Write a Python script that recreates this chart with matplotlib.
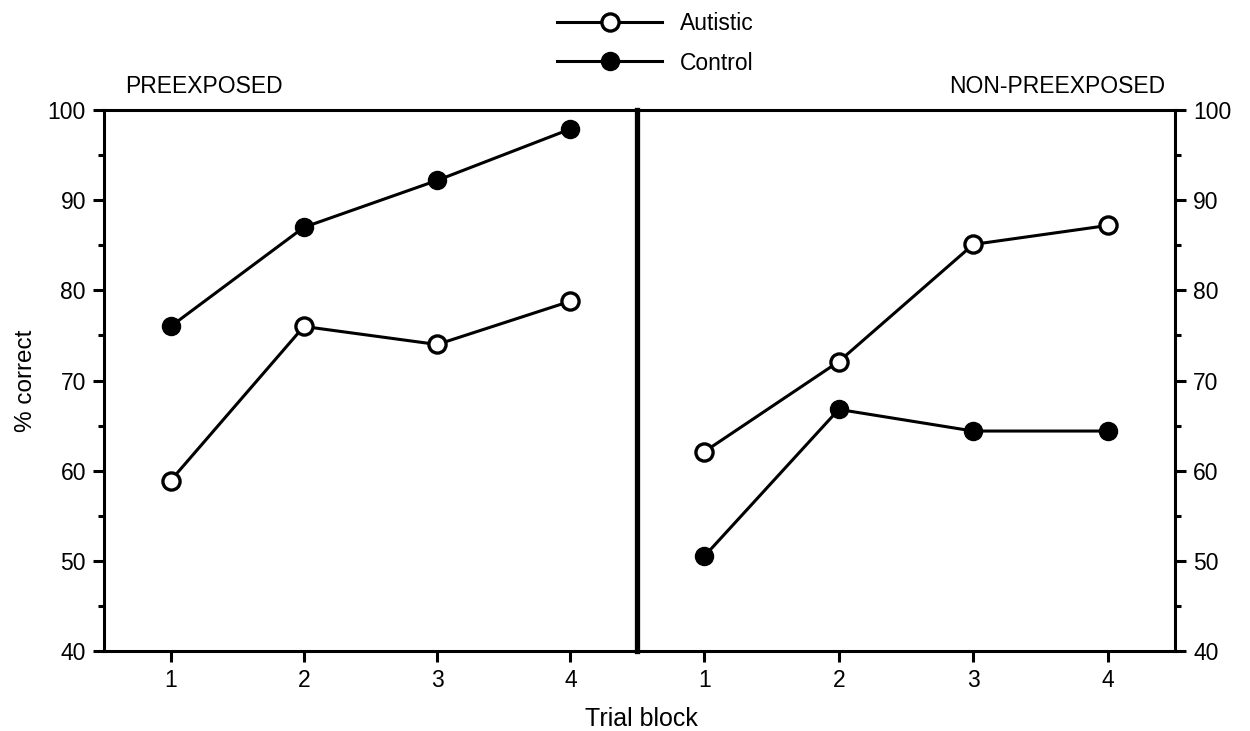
import matplotlib.pyplot as plt
import numpy as np

plt.rcParams['font.family'] = ['Liberation Sans', 'DejaVu Sans']

# data
blocks = [1, 2, 3, 4]
pre_autistic = [58.9, 76.0, 74.0, 78.8]
pre_control = [76.0, 87.0, 92.2, 97.9]
non_autistic = [62.1, 72.1, 85.1, 87.2]
non_control = [50.5, 66.8, 64.4, 64.4]

yticks = [40, 50, 60, 70, 80, 90, 100]
yminor = [45, 55, 65, 75, 85, 95]

fig = plt.figure(figsize=(12.5, 7.31), dpi=100)
ax1 = fig.add_axes([0.0832, 0.1094, 0.4264, 0.740])
ax2 = fig.add_axes([0.5096, 0.1094, 0.4304, 0.740])
ax2.patch.set_visible(False)

lw = 2.2
ms = 13
spine_lw = 2.2

def style(ax):
    ax.set_xlim(0.5, 4.5)
    ax.set_ylim(40, 100)
    ax.set_xticks(blocks)
    ax.set_yticks(yticks)
    ax.set_yticks(yminor, minor=True)
    for s in ax.spines.values():
        s.set_linewidth(spine_lw)
    ax.tick_params(which='major', direction='out', length=8, width=spine_lw, labelsize=16.5, pad=5)
    ax.tick_params(which='minor', direction='out', length=4, width=spine_lw)

for ax, aut, con in [(ax1, pre_autistic, pre_control), (ax2, non_autistic, non_control)]:
    style(ax)
    ax.plot(blocks, con, '-o', color='black', lw=lw, ms=ms, mfc='black', mec='black', label='Control', zorder=3)
    ax.plot(blocks, aut, '-o', color='black', lw=lw, ms=ms * 0.95, mfc='white', mec='black', mew=2.4, label='Autistic', zorder=3)

# left panel: y axis on the left, thick divider on the right
ax1.spines['right'].set_linewidth(3.8)
ax1.set_ylabel('% correct', fontsize=17.5, labelpad=8)

# right panel: y axis on the right
ax2.yaxis.tick_right()
ax2.spines['left'].set_visible(False)
ax2.tick_params(axis='y', which='both', left=False, right=True)

ax1.text(0.04, 1.022, 'PREEXPOSED', transform=ax1.transAxes, fontsize=16.5, ha='left', va='bottom')
ax2.text(0.982, 1.022, 'NON-PREEXPOSED', transform=ax2.transAxes, fontsize=16.5, ha='right', va='bottom')

fig.text(0.513, 1 - 726 / 731, 'Trial block', fontsize=18, ha='center', va='baseline')

h, l = ax1.get_legend_handles_labels()
fig.legend([h[1], h[0]], [l[1], l[0]], loc='upper left', bbox_to_anchor=(557 / 1250, 1 - 12 / 731),
           frameon=False, fontsize=16.5, handlelength=4.6, labelspacing=0.72, handletextpad=0.75,
           borderpad=0, borderaxespad=0)

fig.savefig('out.png', dpi=100)
